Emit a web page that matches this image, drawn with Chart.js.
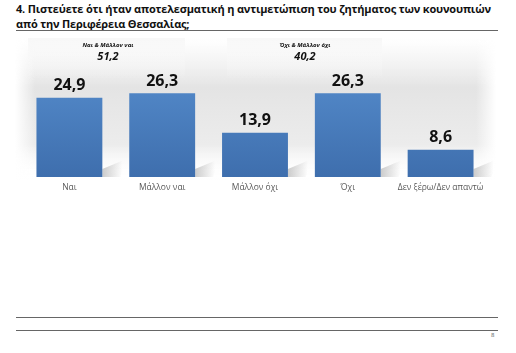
<!DOCTYPE html>
<html>
<head>
<meta charset="utf-8">
<script src="https://cdn.jsdelivr.net/npm/chart.js@4"></script>
<style>
  html,body{margin:0;padding:0;background:#fff;}
  body{width:516px;height:353px;position:relative;overflow:hidden;font-family:"Open Sans",sans-serif;}
  #title{position:absolute;left:16px;top:1px;width:490px;font-weight:bold;font-size:11px;line-height:15px;color:#111;letter-spacing:-0.18px;}
  .rule{position:absolute;left:16px;width:482px;height:1px;background:#666;}
  #chartwrap{position:absolute;left:0;top:0;width:516px;height:200px;}
  .grp{position:absolute;text-align:center;font-style:italic;font-weight:bold;color:#111;}
  .grp .t{font-size:6px;line-height:8px;}
  .grp .v{font-size:11px;line-height:14px;}
  #pg{position:absolute;left:491px;top:331px;font-size:6px;color:#555;}
</style>
</head>
<body>
<div id="title">4. Πιστεύετε ότι ήταν αποτελεσματική η αντιμετώπιση του ζητήματος των κουνουπιών<br>από την Περιφέρεια Θεσσαλίας;</div>
<div class="rule" style="top:30px;"></div>
<div id="chartwrap"><canvas id="c" width="516" height="200"></canvas></div>
<div class="grp" id="g1" style="left:66px;top:41px;width:84px;"><div class="t"></div><div class="v"></div></div>
<div class="grp" id="g2" style="left:263px;top:41px;width:84px;"><div class="t"></div><div class="v"></div></div>
<div class="rule" style="top:317px;"></div>
<div class="rule" style="top:330px;"></div>
<div id="pg">8</div>
<script>
const categories = ["Ναι", "Μάλλον ναι", "Μάλλον όχι", "Όχι", "Δεν ξέρω/Δεν απαντώ"];
const values = [24.9, 26.3, 13.9, 26.3, 8.6];
const groupLabels = ["Ναι & Μάλλον ναι", "Όχι & Μάλλον όχι"];
const groupValues = ["51,2", "40,2"];

document.querySelector('#g1 .t').textContent = groupLabels[0];
document.querySelector('#g1 .v').textContent = groupValues[0];
document.querySelector('#g2 .t').textContent = groupLabels[1];
document.querySelector('#g2 .v').textContent = groupValues[1];

const bgPlugin = {
  id: 'bg',
  beforeDraw(chart) {
    const ctx = chart.ctx;
    ctx.save();
    const x0 = 15, x1 = 496, y0 = 38, y1 = 180;
    const g = ctx.createLinearGradient(0, y0, 0, y1);
    g.addColorStop(0, 'rgba(235,235,235,0)');
    g.addColorStop(0.35, 'rgba(228,228,228,1)');
    g.addColorStop(0.75, 'rgba(236,236,236,1)');
    g.addColorStop(1, 'rgba(255,255,255,0)');
    ctx.fillStyle = g;
    ctx.fillRect(x0, y0, x1 - x0, y1 - y0);
    const gl = ctx.createLinearGradient(x0, 0, x0 + 20, 0);
    gl.addColorStop(0, 'rgba(255,255,255,1)');
    gl.addColorStop(1, 'rgba(255,255,255,0)');
    ctx.fillStyle = gl;
    ctx.fillRect(x0, y0, 20, y1 - y0);
    const gr = ctx.createLinearGradient(x1 - 20, 0, x1, 0);
    gr.addColorStop(0, 'rgba(255,255,255,0)');
    gr.addColorStop(1, 'rgba(255,255,255,1)');
    ctx.fillStyle = gr;
    ctx.fillRect(x1 - 20, y0, 20, y1 - y0);
    [[28, 185], [227, 382]].forEach(([a, b]) => {
      const gb = ctx.createLinearGradient(0, 38, 0, 80);
      gb.addColorStop(0, 'rgba(248,248,248,1)');
      gb.addColorStop(1, 'rgba(248,248,248,0)');
      ctx.fillStyle = gb;
      ctx.fillRect(a, 38, b - a, 42);
    });
    ctx.restore();
  }
};

const shadowPlugin = {
  id: 'shadow',
  beforeDatasetsDraw(chart) {
    const ctx = chart.ctx;
    const meta = chart.getDatasetMeta(0);
    ctx.save();
    meta.data.forEach(bar => {
      const w = bar.width;
      const right = bar.x + w / 2;
      const bottom = bar.base;
      const g = ctx.createLinearGradient(right, 0, right + 20, 0);
      g.addColorStop(0, 'rgba(170,170,170,0.6)');
      g.addColorStop(1, 'rgba(170,170,170,0)');
      ctx.fillStyle = g;
      ctx.beginPath();
      ctx.moveTo(right, bottom);
      ctx.lineTo(right, bottom - 8);
      ctx.lineTo(right + 24, bottom - 18);
      ctx.lineTo(right + 18, bottom);
      ctx.closePath();
      ctx.fill();
    });
    ctx.restore();
  }
};

const labelPlugin = {
  id: 'vals',
  afterDatasetsDraw(chart) {
    const ctx = chart.ctx;
    const meta = chart.getDatasetMeta(0);
    ctx.save();
    ctx.font = 'bold 16px "Open Sans"';
    ctx.fillStyle = '#111';
    ctx.textAlign = 'center';
    ctx.textBaseline = 'middle';
    meta.data.forEach((bar, i) => {
      ctx.fillText(values[i].toFixed(1).replace('.', ','), bar.x, bar.y - 12);
    });
    ctx.restore();
  }
};

const ctx = document.getElementById('c');
new Chart(ctx, {
  type: 'bar',
  data: {
    labels: categories,
    datasets: [{
      data: values,
      backgroundColor: (c) => {
        const area = c.chart.chartArea;
        if (!area) return '#4a7dba';
        const g = c.chart.ctx.createLinearGradient(0, area.top, 0, area.bottom);
        g.addColorStop(0, '#5288c8');
        g.addColorStop(1, '#3e6ead');
        return g;
      },
      borderWidth: 0,
      barPercentage: 0.71,
      categoryPercentage: 1.0
    }]
  },
  options: {
    responsive: false,
    animation: false,
    devicePixelRatio: 1,
    layout: { padding: { left: 23, right: 29, top: 81.6, bottom: 2.8 } },
    plugins: { legend: { display: false }, tooltip: { enabled: false } },
    scales: {
      x: {
        grid: { display: false, drawTicks: false },
        border: { display: false },
        ticks: { color: '#595959', font: { family: '"Open Sans"', size: 8.5 }, padding: 5, maxRotation: 0, autoSkip: false }
      },
      y: {
        display: false,
        min: 0,
        max: 30
      }
    }
  },
  plugins: [bgPlugin, shadowPlugin, labelPlugin]
});
</script>
</body>
</html>
